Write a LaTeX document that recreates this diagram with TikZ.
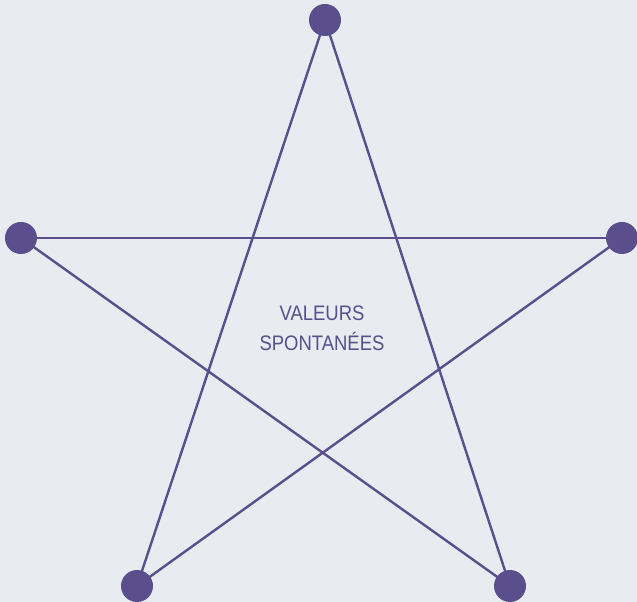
\documentclass[tikz,border=0pt]{standalone}
\usepackage{fontspec}
\newfontfamily\labfont[FakeStretch=0.88]{Liberation Sans}
\definecolor{bgc}{HTML}{E8EBEF}
\definecolor{ink}{HTML}{5A4F8C}
\begin{document}
\begin{tikzpicture}[x=1pt,y=1pt,
  dot/.style={circle,fill=ink,inner sep=0pt,minimum size=32pt},
  edge/.style={draw=ink,line width=2.4pt},
  lab/.style={text=ink,font=\labfont\fontsize{21}{30}\selectfont,align=center}]
\fill[bgc] (0,0) rectangle (637,602);
\useasboundingbox (0,0) rectangle (637,602);
\coordinate (t) at (325,582);
\coordinate (l) at (21,364);
\coordinate (r) at (622,364);
\coordinate (bl) at (137,16);
\coordinate (br) at (510,16);
\draw[edge] (t) -- (bl);
\draw[edge] (t) -- (br);
\draw[edge] (l) -- (r);
\draw[edge] (l) -- (br);
\draw[edge] (r) -- (bl);
\node[dot] (nt) at (t) {};
\node[dot] (nl) at (l) {};
\node[dot] (nr) at (r) {};
\node[dot] (nbl) at (bl) {};
\node[dot] (nbr) at (br) {};
\node[lab] (txt) at (322,274) {VALEURS\\SPONTANÉES};
\end{tikzpicture}
\end{document}
